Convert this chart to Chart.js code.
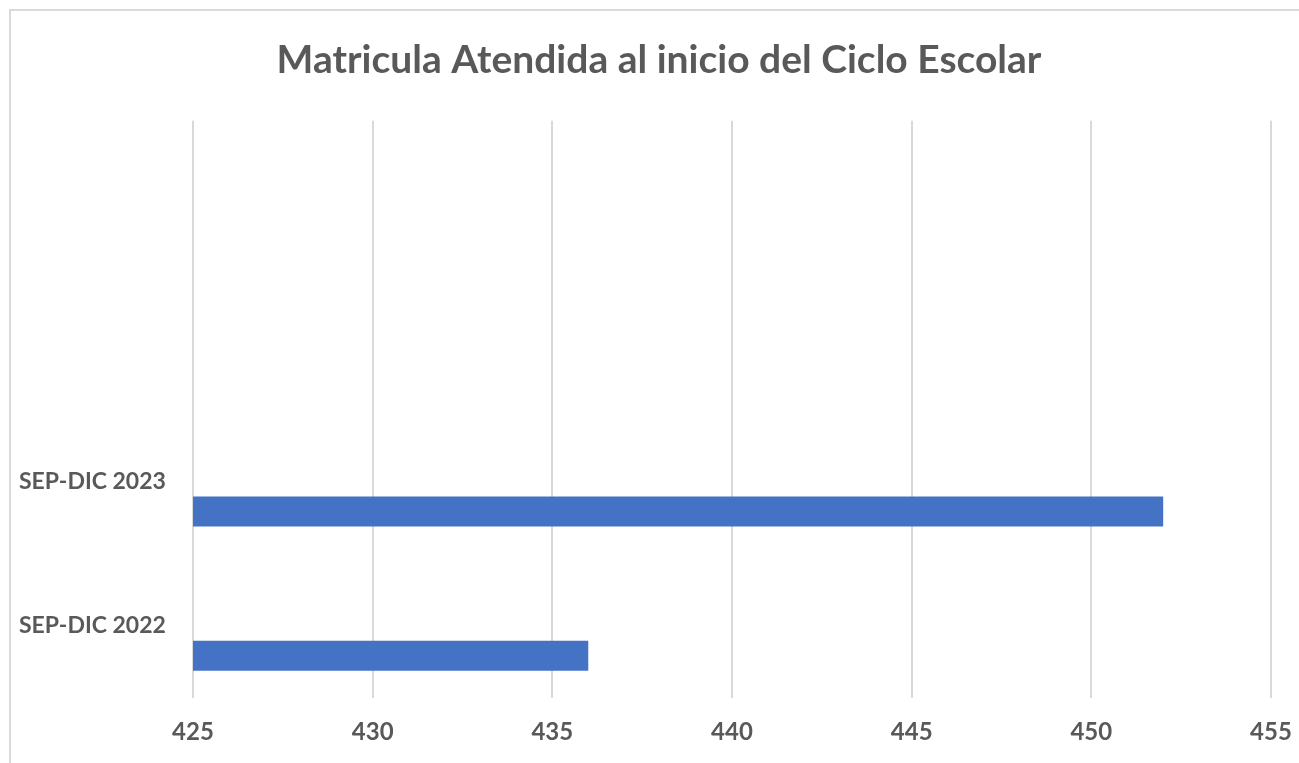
<!DOCTYPE html>
<html>
<head>
<meta charset="utf-8">
<script src="https://cdn.jsdelivr.net/npm/chart.js@4/dist/chart.umd.min.js"></script>
<style>
html,body{margin:0;padding:0;background:#fff;overflow:hidden;width:1299px;height:763px;}
#frame{position:absolute;left:9px;top:9px;width:1400px;height:900px;border:2px solid #d9d9d9;box-sizing:border-box;}
#c{position:absolute;left:0;top:0;}
</style>
</head>
<body>
<div id="frame"></div>
<canvas id="c" width="1299" height="763"></canvas>
<script>
const categories = ['', '', 'SEP-DIC 2023', 'SEP-DIC 2022'];
const matricula = [null, null, 452, 436];
const emptySeries = [null, null, null, null];
const xMin = 425, xMax = 455, xStep = 5;
const titleText = 'Matricula Atendida al inicio del Ciclo Escolar';

const textColor = '#595959';
new Chart(document.getElementById('c'), {
  type: 'bar',
  data: {
    labels: categories,
    datasets: [
      { label: 'vacío', data: emptySeries, backgroundColor: '#ED7D31' },
      { label: 'Matricula', data: matricula, backgroundColor: '#4472C4', borderWidth: 0 }
    ]
  },
  options: {
    indexAxis: 'y',
    responsive: false,
    animation: false,
    devicePixelRatio: 1,
    categoryPercentage: 0.832,
    barPercentage: 0.5,
    layout: { padding: { left: 19, right: 0, top: 0, bottom: 0 } },
    plugins: {
      legend: { display: false },
      tooltip: { enabled: false },
      title: {
        display: true,
        text: titleText,
        color: textColor,
        font: { family: 'Lato', weight: 'bold', size: 39 },
        padding: { top: 37, bottom: 37 }
      }
    },
    scales: {
      x: {
        min: xMin, max: xMax,
        ticks: { stepSize: xStep, color: textColor, font: { family: 'Lato', weight: 'bold', size: 24 }, padding: 20 },
        grid: { color: '#d9d9d9', lineWidth: 2, drawTicks: false },
        border: { display: false },
        afterFit: s => { s.height = 65; s.paddingRight = 28; s.paddingLeft = 0; }
      },
      y: {
        ticks: { color: textColor, font: { family: 'Lato', weight: 'bold', size: 23 }, padding: 0, crossAlign: 'far' },
        grid: { display: false, drawTicks: false },
        border: { display: false },
        afterFit: s => { s.width = 174; }
      }
    }
  }
});
</script>
</body>
</html>
